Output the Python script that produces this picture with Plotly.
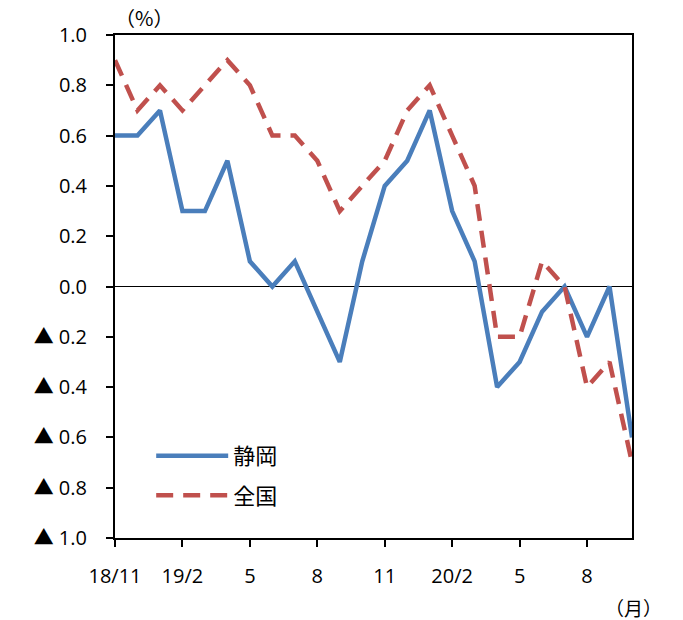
import plotly.graph_objects as go

months = ["18/11", "18/12", "19/1", "19/2", "19/3", "19/4", "19/5", "19/6", "19/7",
          "19/8", "19/9", "19/10", "19/11", "19/12", "20/1", "20/2", "20/3", "20/4",
          "20/5", "20/6", "20/7", "20/8", "20/9", "20/10"]
shizuoka = [0.6, 0.6, 0.7, 0.3, 0.3, 0.5, 0.1, 0.0, 0.1, -0.1, -0.3, 0.1, 0.4, 0.5,
            0.7, 0.3, 0.1, -0.4, -0.3, -0.1, 0.0, -0.2, 0.0, -0.6]
zenkoku = [0.9, 0.7, 0.8, 0.7, 0.8, 0.9, 0.8, 0.6, 0.6, 0.5, 0.3, 0.4, 0.5, 0.7,
           0.8, 0.6, 0.4, -0.2, -0.2, 0.1, 0.0, -0.4, -0.3, -0.7]
x_tick_months = ["18/11", "19/2", "19/5", "19/8", "19/11", "20/2", "20/5", "20/8"]
x_tick_labels = ["18/11", "19/2", "5", "8", "11", "20/2", "5", "8"]
y_tick_vals = [1.0, 0.8, 0.6, 0.4, 0.2, 0.0, -0.2, -0.4, -0.6, -0.8, -1.0]
y_tick_labels = ["1.0", "0.8", "0.6", "0.4", "0.2", "0.0",
                 "▲ 0.2", "▲ 0.4", "▲ 0.6", "▲ 0.8", "▲ 1.0"]

xi = list(range(len(months)))
FONT = "Open Sans, Noto Sans CJK JP, sans-serif"

fig = go.Figure()
fig.add_trace(go.Scatter(x=xi, y=shizuoka, mode="lines", name="静岡", legendgroup="a",
                         line=dict(color="#4A7EBB", width=4.5)))
fig.add_trace(go.Scatter(x=xi, y=zenkoku, mode="lines", name="全国", legendgroup="b",
                         line=dict(color="#C0504D", width=4.5, dash="17px,10px")))

fig.update_layout(
    width=683, height=620,
    margin=dict(l=115, r=51, t=35, b=82),
    plot_bgcolor="white", paper_bgcolor="white",
    font=dict(family=FONT, size=20, color="black"),
    showlegend=True,
    legend=dict(x=0.07, y=0.205, xanchor="left", yanchor="top",
                bgcolor="rgba(0,0,0,0)", font=dict(size=22, family="Noto Sans CJK JP"),
                tracegroupgap=8, itemwidth=72),
    xaxis=dict(range=[0, len(months) - 1],
               tickmode="array",
               tickvals=[months.index(m) for m in x_tick_months],
               ticktext=x_tick_labels,
               ticks="outside", ticklen=7, tickwidth=1.5, tickcolor="black",
               ticklabelstandoff=12,
               showline=True, linecolor="black", linewidth=2, mirror=True,
               showgrid=False, zeroline=False),
    yaxis=dict(range=[-1.0, 1.0],
               tickmode="array", tickvals=y_tick_vals, ticktext=y_tick_labels,
               ticks="outside", ticklen=7, tickwidth=1.5, tickcolor="black",
               ticklabelstandoff=15,
               showline=True, linecolor="black", linewidth=2, mirror=True,
               showgrid=False, zeroline=True, zerolinecolor="black", zerolinewidth=1.2),
    annotations=[
        dict(text="（%）", xref="paper", yref="paper", x=0.0, y=1.0,
             xanchor="left", yanchor="bottom", showarrow=False, yshift=1, xshift=-2,
             font=dict(size=20, family="Noto Sans CJK JP")),
        dict(text="（月）", xref="paper", yref="paper", x=1.0, y=0.0,
             xanchor="right", yanchor="middle", showarrow=False, yshift=-69, xshift=31,
             borderpad=0,
             font=dict(size=19, family="Noto Sans CJK JP")),
    ],
)

fig.write_html("out.html", post_script="document.body.style.margin='0';",
               config={"displayModeBar": False})
